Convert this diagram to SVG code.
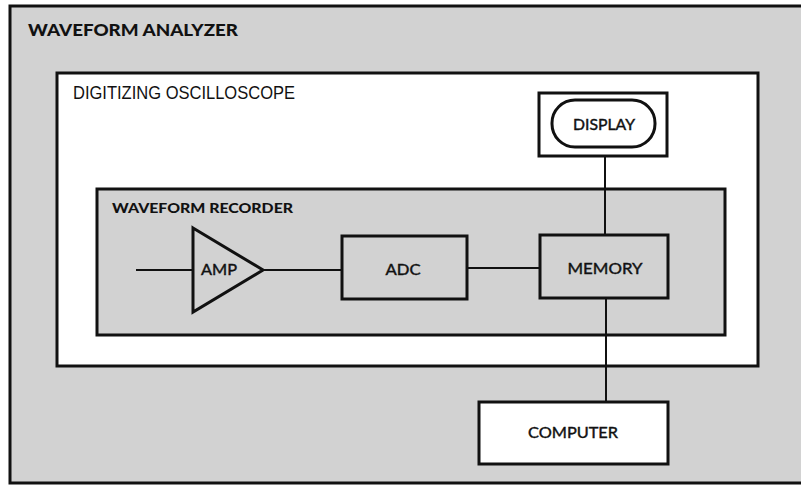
<svg xmlns="http://www.w3.org/2000/svg" width="801" height="485" viewBox="0 0 801 485">
<style>
.box{stroke:#111;stroke-width:3;}
.gray{fill:#d2d2d2;}
.white{fill:#fff;}
.wire{stroke:#111;stroke-width:2;fill:none;}
.lbl{font-family:"Liberation Sans",Arial,sans-serif;fill:#111;}
.title{font-family:Lato,"Liberation Sans",sans-serif;font-weight:900;fill:#111;}
.node{font-family:Lato,"Liberation Sans",sans-serif;font-weight:400;font-size:15px;fill:#111;stroke:#111;stroke-width:0.4;text-anchor:middle;}
</style>
<rect x="0" y="0" width="801" height="485" fill="#fff"/>
<g id="waveform-analyzer">
<rect x="10" y="6" width="800" height="477" class="box gray"/>
<text x="28" y="36" class="title" font-size="17" textLength="210" lengthAdjust="spacingAndGlyphs">WAVEFORM ANALYZER</text>
</g>
<g id="digitizing-oscilloscope">
<rect x="57" y="73" width="701" height="293" class="box white"/>
<text x="73" y="99" class="lbl" font-size="19" textLength="222" lengthAdjust="spacingAndGlyphs">DIGITIZING OSCILLOSCOPE</text>
</g>
<g id="display">
<rect x="539" y="93" width="128" height="63" class="box white"/>
<rect x="552" y="100" width="103" height="47" rx="23" ry="23" class="box white"/>
<text x="604" y="130" class="node" textLength="62" lengthAdjust="spacingAndGlyphs">DISPLAY</text>
</g>
<g id="waveform-recorder">
<rect x="97" y="189" width="628" height="146" class="box gray"/>
<text x="112" y="213" class="title" font-size="13" textLength="181" lengthAdjust="spacingAndGlyphs">WAVEFORM RECORDER</text>
</g>
<g id="amp">
<polygon points="193,228 263,270 193,312" class="box gray"/>
<text x="219" y="275" class="node" textLength="36" lengthAdjust="spacingAndGlyphs">AMP</text>
</g>
<g id="adc">
<rect x="342" y="236" width="125" height="63" class="box gray"/>
<text x="403" y="275" class="node" textLength="35" lengthAdjust="spacingAndGlyphs">ADC</text>
</g>
<g id="memory">
<rect x="540" y="235" width="128" height="63" class="box gray"/>
<text x="605" y="274" class="node" textLength="75" lengthAdjust="spacingAndGlyphs">MEMORY</text>
</g>
<g id="computer">
<rect x="479" y="402" width="189" height="62" class="box white"/>
<text x="573" y="438" class="node" font-weight="900" stroke-width="0" textLength="90" lengthAdjust="spacingAndGlyphs">COMPUTER</text>
</g>
<g id="connectors">
<line x1="136" y1="270" x2="193" y2="270" class="wire"/>
<line x1="263" y1="270" x2="342" y2="270" class="wire"/>
<line x1="467" y1="268" x2="540" y2="268" class="wire"/>
<line x1="605" y1="156" x2="605" y2="235" class="wire"/>
<line x1="606" y1="298" x2="606" y2="402" class="wire"/>
</g>
</svg>
